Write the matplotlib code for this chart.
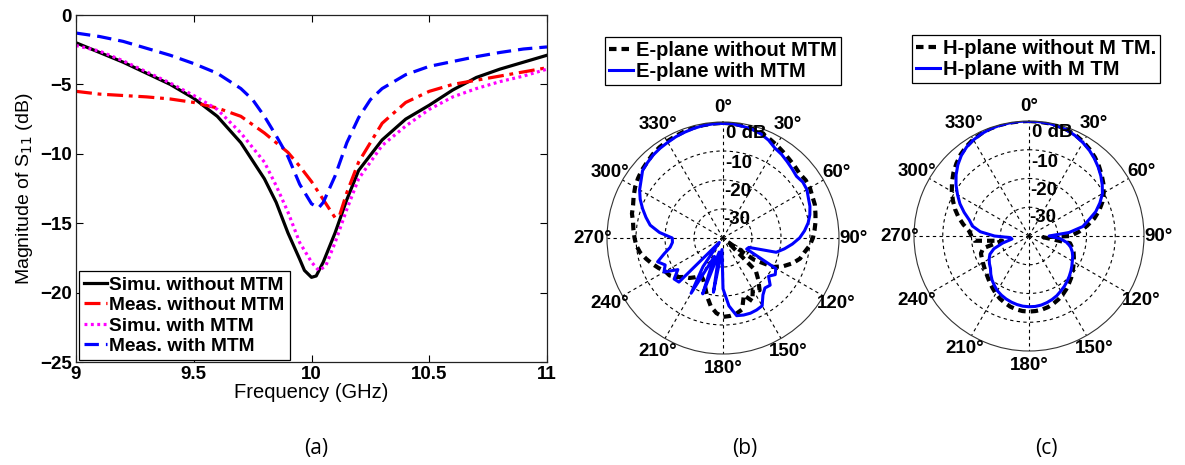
import numpy as np
import matplotlib
matplotlib.use("Agg")
import matplotlib.pyplot as plt

plt.rcParams["font.family"] = ["Liberation Sans", "DejaVu Sans"]

# ---------------- S11 data ----------------
f_simu_wo = [9.0, 9.1, 9.2, 9.3, 9.4, 9.5, 9.6, 9.7, 9.8, 9.85, 9.9, 9.95, 9.97,
             10.0, 10.02, 10.05, 10.1, 10.15, 10.2, 10.3, 10.4, 10.5, 10.6, 10.7,
             10.8, 10.9, 11.0]
s_simu_wo = [-2.0, -2.7, -3.4, -4.2, -5.0, -6.0, -7.3, -9.2, -11.8, -13.5, -15.7,
             -17.6, -18.4, -18.9, -18.8, -17.8, -15.7, -13.3, -11.2, -9.0, -7.5,
             -6.5, -5.4, -4.5, -3.9, -3.4, -2.9]

f_meas_wo = [9.0, 9.1, 9.2, 9.3, 9.4, 9.5, 9.6, 9.7, 9.75, 9.8, 9.85, 9.9, 9.95,
             10.0, 10.05, 10.1, 10.12, 10.15, 10.2, 10.25, 10.3, 10.4, 10.5, 10.6,
             10.7, 10.8, 10.9, 11.0]
s_meas_wo = [-5.5, -5.7, -5.8, -5.9, -6.05, -6.3, -6.7, -7.3, -7.9, -8.5, -9.2,
             -9.9, -10.9, -12.0, -13.3, -14.6, -14.4, -12.8, -10.6, -9.2, -7.8,
             -6.3, -5.5, -5.0, -4.7, -4.4, -4.1, -3.8]

f_simu_w = [9.0, 9.1, 9.2, 9.3, 9.4, 9.5, 9.6, 9.7, 9.8, 9.85, 9.9, 9.95, 10.0,
            10.03, 10.06, 10.1, 10.15, 10.2, 10.3, 10.4, 10.5, 10.6, 10.7, 10.8,
            10.9, 11.0]
s_simu_w = [-2.2, -2.6, -3.3, -4.1, -4.9, -5.8, -6.8, -8.5, -10.6, -12.3, -14.2,
            -16.4, -17.8, -18.4, -18.1, -16.4, -14.0, -11.8, -9.4, -8.0, -6.8,
            -5.9, -5.3, -4.8, -4.4, -3.9]

f_meas_w = [9.0, 9.1, 9.2, 9.3, 9.4, 9.5, 9.6, 9.7, 9.75, 9.8, 9.85, 9.9, 9.95,
            10.0, 10.03, 10.05, 10.1, 10.15, 10.2, 10.25, 10.3, 10.4, 10.5, 10.6,
            10.7, 10.8, 10.9, 11.0]
s_meas_w = [-1.3, -1.55, -1.9, -2.4, -2.9, -3.5, -4.2, -5.3, -6.1, -7.3, -8.7,
            -10.2, -12.2, -13.6, -13.9, -13.5, -11.6, -9.2, -7.4, -6.1, -5.3,
            -4.3, -3.7, -3.35, -3.0, -2.7, -2.45, -2.3]

s11_labels = ["Simu. without MTM", "Meas. without MTM",
              "Simu. with MTM", "Meas. with MTM"]
freq_ticks = [9, 9.5, 10, 10.5, 11]
s11_ticks = [0, -5, -10, -15, -20, -25]

# ---------------- Radiation pattern data (dB, every 5 deg) ----------------
pat_angles = list(range(0, 360, 5))

e_without = [-0.3, -0.4, -0.7, -1.0, -1.4, -2.2, -3.0, -3.8, -4.5, -5.0, -5.5, -5.2,
             -5.4, -6.0, -6.3, -7.0, -7.6, -8.3, -9.0, -10.0, -11.5, -12.5, -14.5, -17.0,
             -20.0, -27.0, -38.0, -24.0, -21.0, -18.0, -19.5, -16.0, -19.0, -14.5, -13.5, -13.0,
             -12.8, -14.0, -16.0, -19.0, -22.0, -24.0, -25.0, -23.5, -22.0, -21.0, -19.0, -17.5,
             -17.0, -15.5, -14.0, -12.5, -11.0, -10.0, -9.5, -9.0, -8.5, -7.5, -7.0, -6.0,
             -5.0, -4.2, -3.5, -3.0, -2.3, -1.8, -1.5, -1.2, -0.9, -0.6, -0.5, -0.4]

e_with = [-0.4, -0.5, -0.9, -1.2, -1.8, -2.8, -4.2, -4.8, -5.6, -6.3, -6.9, -6.4,
          -6.6, -7.5, -8.1, -9.0, -10.2, -11.8, -13.6, -16.0, -18.5, -21.0, -30.5, -31.0,
          -19.0, -18.0, -19.5, -17.0, -17.5, -16.0, -13.0, -12.6, -12.4, -12.5, -12.8, -16.5,
          -22.5, -36.0, -21.0, -35.0, -19.5, -33.0, -18.0, -28.0, -38.0, -18.5, -18.0, -21.0,
          -16.5, -18.0, -16.0, -19.0, -21.5, -22.5, -22.5, -18.0, -14.5, -12.5, -10.5, -8.5,
          -6.8, -5.5, -3.8, -3.2, -2.6, -2.2, -1.9, -1.5, -1.2, -0.9, -0.6, -0.5]

h_without = [0.0, -0.1, -0.2, -0.4, -0.8, -1.4, -2.2, -3.2, -4.3, -5.6, -7.0, -8.4,
             -10.0, -11.8, -14.0, -16.5, -19.5, -22.5, -25.5, -35.0, -25.5, -24.5, -23.5, -22.8,
             -22.0, -21.2, -20.3, -19.3, -18.4, -17.4, -16.5, -15.7, -15.0, -14.4, -14.0, -13.8,
             -13.7, -13.8, -14.1, -14.6, -15.3, -16.0, -16.9, -17.9, -18.8, -19.7, -20.4, -21.0,
             -21.5, -21.9, -22.2, -23.5, -30.5, -21.0, -20.0, -19.0, -16.8, -14.6, -12.6, -10.8,
             -9.0, -7.3, -5.7, -4.3, -3.0, -2.0, -1.2, -0.7, -0.3, -0.1, 0.0, 0.0]

h_with = [0.0, -0.1, -0.2, -0.5, -0.9, -1.6, -2.5, -3.5, -4.7, -6.0, -7.4, -8.9,
          -10.5, -12.8, -15.3, -18.5, -21.0, -26.0, -33.0, -29.0, -26.5, -25.0, -24.0, -23.2,
          -22.6, -21.8, -21.0, -20.2, -19.4, -18.6, -17.9, -17.1, -16.5, -16.0, -15.6, -15.4,
          -15.4, -15.5, -15.8, -16.2, -16.7, -17.3, -18.0, -19.0, -20.0, -21.2, -22.5, -23.2,
          -24.0, -25.0, -27.0, -30.5, -34.0, -33.5, -28.0, -23.0, -20.0, -18.5, -16.0, -13.5,
          -11.3, -9.0, -6.9, -5.0, -3.4, -2.2, -1.4, -0.8, -0.4, -0.2, -0.1, 0.0]

e_labels = ["E-plane without MTM", "E-plane with MTM"]
h_labels = ["H-plane without M TM.", "H-plane with M TM"]
theta_grid = list(range(0, 360, 30))
r_rings = [-30, -20, -10]
r_ring_labels = ["0 dB", "-10", "-20", "-30"]
r_ring_label_pos = [-4.0, -14.3, -24.0, -33.7]

W, H = 1185, 465
fig = plt.figure(figsize=(W / 100, H / 100), dpi=100)
fig.patch.set_facecolor("white")

# ---------------- (a) S11 ----------------
ax = fig.add_axes([76 / W, (H - 362) / H, (547 - 76) / W, (362 - 15) / H])
lw = 2.3
ax.plot(f_simu_wo, s_simu_wo, color="black", lw=lw, label=s11_labels[0])
ax.plot(f_meas_wo, s_meas_wo, color="red", lw=lw, ls=(0, (5, 1.8, 1.2, 1.8)),
        label=s11_labels[1])
ax.plot(f_simu_w, s_simu_w, color="magenta", lw=lw, ls=(0, (0.9, 1.1)),
        label=s11_labels[2])
ax.plot(f_meas_w, s_meas_w, color="blue", lw=lw, ls=(0, (4.5, 2.2)),
        label=s11_labels[3])
ax.set_xlim(9, 11)
ax.set_ylim(-25, 0)
ax.set_xticks(freq_ticks)
ax.set_xticklabels(["9", "9.5", "10", "10.5", "11"])
ax.set_yticks(s11_ticks)
ax.tick_params(direction="in", top=True, right=True, length=5, width=0.8,
               labelsize=13.5, pad=3)
for t in ax.get_xticklabels() + ax.get_yticklabels():
    t.set_fontweight("bold")
for s in ax.spines.values():
    s.set_linewidth(0.9)
    s.set_color("#222222")
ax.set_xlabel("Frequency (GHz)", fontsize=14.5, labelpad=0)
ax.set_ylabel("Magnitude of S$_{11}$ (dB)", fontsize=14, labelpad=4)
leg = ax.legend(loc="lower left", bbox_to_anchor=(0.006, 0.006), borderaxespad=0,
                prop={"weight": "bold", "size": 13.8}, handlelength=1.2,
                handletextpad=0.15, labelspacing=0.16, borderpad=0.25,
                fancybox=False, framealpha=1)
leg.get_frame().set_edgecolor("black")
leg.get_frame().set_linewidth(0.9)


# ---------------- polar panels ----------------
def polar_panel(cx, cy, R, data_wo, data_w, labels, leg_box):
    pax = fig.add_axes([(cx - R) / W, (H - cy - R) / H, 2 * R / W, 2 * R / H],
                       projection="polar")
    pax.set_theta_zero_location("N")
    pax.set_theta_direction(-1)
    pax.set_ylim(-40, 0)
    pax.set_xticks(np.deg2rad(theta_grid))
    pax.set_xticklabels([])
    pax.set_yticks(r_rings)
    pax.set_yticklabels([])
    pax.grid(True, color="black", lw=0.8, ls=(0, (3, 3)))
    pax.spines["polar"].set_linewidth(0.8)
    pax.spines["polar"].set_color("#333333")
    th = np.deg2rad(pat_angles + [360])
    l1, = pax.plot(th, list(data_wo) + [data_wo[0]], color="black", lw=3.0,
                   ls=(0, (1.8, 1.2)), label=labels[0])
    l2, = pax.plot(th, list(data_w) + [data_w[0]], color="blue", lw=2.2,
                   label=labels[1])
    for txt, rp in zip(r_ring_labels, r_ring_label_pos):
        pax.text(np.deg2rad(1.5), rp, txt, ha="left", va="center", fontsize=13.5,
                 fontweight="bold", clip_on=False)
    for a in theta_grid:
        pax.text(np.deg2rad(a), 5.0, f"{a}°", ha="center", va="center",
                 fontsize=13.5, fontweight="bold", clip_on=False)
    lg = fig.legend(handles=[l1, l2], loc="upper left",
                    bbox_to_anchor=(leg_box[0] / W, 1 - leg_box[1] / H),
                    bbox_transform=fig.transFigure, borderaxespad=0,
                    prop={"weight": "bold", "size": 14.5}, handlelength=1.2,
                    handletextpad=0.15, labelspacing=0.12, borderpad=0.2,
                    fancybox=False, framealpha=1)
    lg.get_frame().set_edgecolor("black")
    lg.get_frame().set_linewidth(0.9)
    return pax


polar_panel(723, 238, 116, e_without, e_with, e_labels, (605, 37))
polar_panel(1029, 236, 115, h_without, h_with, h_labels, (912, 35))

# panel captions
for x, s in [(316, "(a)"), (745, "(b)"), (1046, "(c)")]:
    fig.text(x / W, 1 - 448 / H, s, ha="center", va="center", fontsize=15,
             family=["Open Sans", "DejaVu Sans"])

fig.savefig("out.png", dpi=100, facecolor="white")
